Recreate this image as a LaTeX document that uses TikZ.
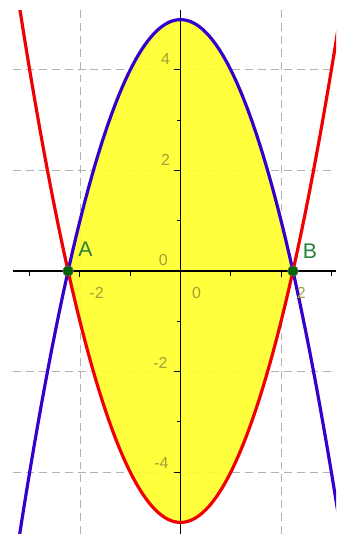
\documentclass[tikz,border=0pt]{standalone}
\usepackage{fontspec}
\setmainfont{Liberation Sans}
\usepackage{xcolor}
\usepackage{tikz}
\usetikzlibrary{positioning}

\definecolor{curveblue}{RGB}{51,0,204}
\definecolor{curvered}{RGB}{240,0,0}
\definecolor{fillyellow}{RGB}{255,255,40}
\definecolor{ticklabel}{RGB}{160,160,55}
\definecolor{pointgreen}{RGB}{0,100,0}
\definecolor{pointlabel}{RGB}{40,130,60}

\begin{document}
\begin{tikzpicture}[
    gridline/.style={black!30, dash pattern=on 4.5pt off 2.8pt, line width=0.5pt},
    axisline/.style={black, line width=0.9pt},
    tickline/.style={black, line width=0.6pt},
    bluecurve/.style={curveblue, line width=1.8pt},
    redcurve/.style={curvered, line width=1.8pt},
    regionfill/.style={fill=fillyellow, fill opacity=0.9},
    ticklab/.style={font=\fontsize{9}{10}\selectfont, text=ticklabel, inner sep=0pt},
    meetpoint/.style={circle, fill=pointgreen, draw=black!60, line width=0.4pt, inner sep=0pt, minimum size=6pt},
    pointlab/.style={font=\fontsize{12}{13}\selectfont, text=pointlabel, inner sep=0pt}
]
\useasboundingbox (-3.59,-5.23) rectangle (3.095,5.39);
\clip (-3.33,-5.23) rectangle (3.095,5.19);
% grid
\foreach \gx in {-2,2}
  \draw[gridline] (\gx,-5.23) -- (\gx,5.19);
\foreach \gy in {-4,-2,2,4}
  \draw[gridline] (-3.33,\gy) -- (3.095,\gy);
% region between the two parabolas
\fill[regionfill] plot[domain=-2.2361:2.2361, samples=80] (\x,{5-\x*\x})
  -- plot[domain=2.2361:-2.2361, samples=80] (\x,{\x*\x-5}) -- cycle;
% axes and ticks
\coordinate (xmin) at (-3.33,0);
\coordinate (xmax) at (3.095,0);
\coordinate (ymin) at (0,-5.23);
\coordinate (ymax) at (0,5.19);
\draw[axisline] (xmin) -- (xmax);
\draw[axisline] (ymin) -- (ymax);
\foreach \tx in {-3,-1,1,3}
  \draw[tickline] (\tx,0) -- (\tx,-0.1);
\foreach \tx in {-2,2}
  \draw[tickline] (\tx,0) -- (\tx,-0.12);
\foreach \ty in {-3,-1,1,3}
  \draw[tickline] (0,\ty) -- (-0.06,\ty);
\foreach \ty in {-4,-2,2,4}
  \draw[tickline] (0,\ty) -- (-0.12,\ty);
% curves
\draw[bluecurve] plot[domain=-3.3:3.3, samples=100] (\x,{5-\x*\x});
\draw[redcurve] plot[domain=-3.3:3.3, samples=100] (\x,{\x*\x-5});
% tick labels
\node[ticklab] (ylab4) at (-0.30,4.21) {4};
\node[ticklab] (ylab2) at (-0.30,2.21) {2};
\node[ticklab] (ylabm2) at (-0.40,-1.83) {-2};
\node[ticklab] (ylabm4) at (-0.38,-3.82) {-4};
\node[ticklab] (ylab0) at (-0.34,0.22) {0};
\node[ticklab] (xlab0) at (0.32,-0.44) {0};
\node[ticklab] (xlabm2) at (-1.67,-0.44) {-2};
\node[ticklab] (xlab2) at (2.40,-0.44) {2};
% intersection points
\node[meetpoint] (A) at ({-sqrt(5)},0) {};
\node[meetpoint] (B) at ({sqrt(5)},0) {};
\node[pointlab, above right=0.2cm and 0.12cm of A] (labA) {A};
\node[pointlab, above right=0.17cm and 0.11cm of B] (labB) {B};
\end{tikzpicture}
\end{document}
